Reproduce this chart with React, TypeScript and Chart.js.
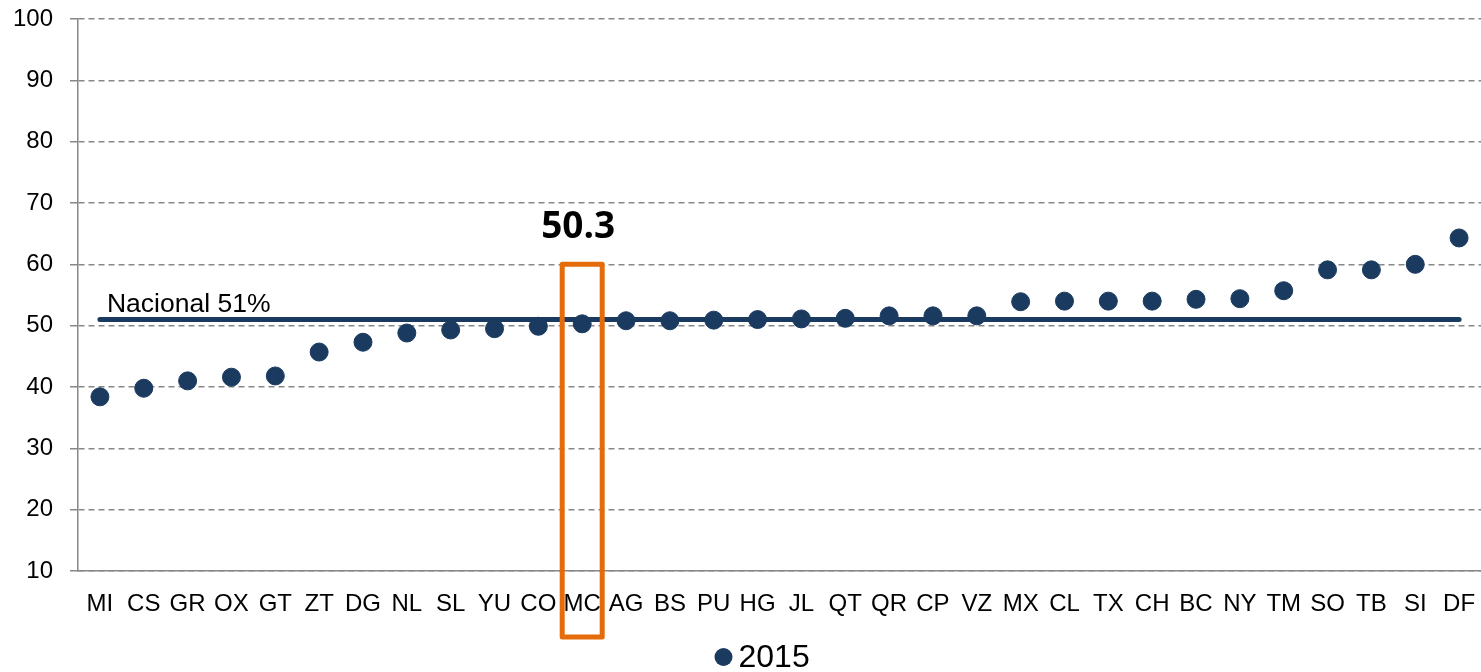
import React, { useEffect, useRef } from "react";
import { Chart, registerables } from "chart.js";

Chart.register(...registerables);

const categories = ["MI","CS","GR","OX","GT","ZT","DG","NL","SL","YU","CO","MC","AG","BS","PU","HG","JL","QT","QR","CP","VZ","MX","CL","TX","CH","BC","NY","TM","SO","TB","SI","DF"];
const values2015 = [38.4,39.8,41.0,41.6,41.8,45.7,47.3,48.8,49.3,49.5,49.9,50.3,50.8,50.8,50.9,51.0,51.1,51.2,51.6,51.6,51.6,53.9,54.0,54.0,54.0,54.3,54.4,55.7,59.1,59.1,60.0,64.3];
const nationalValue = 51;
const nationalLabel = "Nacional 51%";
const highlightCategory = "MC";
const highlightLabel = "50.3";
const highlightTop = 60;
const seriesLabel = "2015";
const yTicks = { min: 10, max: 100, step: 10 };

const NAVY = "#1A3A5F";
const ORANGE = "#E46C0A";
const FONT = "'Liberation Sans', Arial, sans-serif";

const overlayPlugin = {
  id: "overlay",
  afterDatasetsDraw(chart: any) {
    const { ctx, scales, chartArea } = chart;
    const x = scales.x;
    const y = scales.y;
    ctx.save();
    // national label
    const x0 = x.getPixelForValue(0);
    const yn = y.getPixelForValue(nationalValue);
    ctx.fillStyle = "#000";
    ctx.font = `26.5px ${FONT}`;
    ctx.textAlign = "left";
    ctx.textBaseline = "alphabetic";
    ctx.fillText(nationalLabel, x0 + 7, yn - 8);
    // highlight box
    const idx = categories.indexOf(highlightCategory);
    const cx = x.getPixelForValue(idx);
    const top = y.getPixelForValue(highlightTop);
    const bottom = chartArea.bottom + 66;
    ctx.strokeStyle = ORANGE;
    ctx.lineWidth = 5;
    ctx.lineJoin = "round";
    ctx.strokeRect(cx - 20, top, 40, bottom - top);
    // highlight label
    ctx.fillStyle = "#000";
    ctx.font = `bold 37px 'Open Sans', sans-serif`;
    ctx.textAlign = "center";
    ctx.fillText(highlightLabel, cx - 4, top - 26);
    // legend
    const ds = chart.data.datasets[0];
    const ly = chartArea.bottom + 86;
    const lx = (chartArea.left + chartArea.right) / 2 - 56;
    ctx.fillStyle = ds.pointBackgroundColor;
    ctx.beginPath();
    ctx.arc(lx, ly, 9, 0, Math.PI * 2);
    ctx.fill();
    ctx.fillStyle = "#000";
    ctx.font = `32px ${FONT}`;
    ctx.textAlign = "left";
    ctx.textBaseline = "middle";
    ctx.fillText(ds.label, lx + 15, ly + 1);
    ctx.restore();
  },
};

export default function App() {
  const ref = useRef<HTMLCanvasElement>(null);
  useEffect(() => {
    if (!ref.current) return;
    const chart = new Chart(ref.current, {
      type: "line",
      data: {
        labels: categories,
        datasets: [
          {
            label: seriesLabel,
            data: values2015,
            showLine: false,
            pointRadius: 9,
            pointHoverRadius: 9,
            pointBackgroundColor: NAVY,
            pointBorderColor: NAVY,
            backgroundColor: NAVY,
            borderColor: NAVY,
            clip: false,
            order: 1,
          },
          {
            label: "Nacional",
            data: categories.map(() => nationalValue),
            borderColor: NAVY,
            borderWidth: 5,
            borderCapStyle: "round",
            pointRadius: 0,
            clip: false,
            order: 2,
          },
        ],
      },
      options: {
        animation: false,
        responsive: true,
        maintainAspectRatio: false,
        layout: { autoPadding: false, padding: { top: 19, left: 0, right: 0, bottom: 0 } },
        plugins: {
          tooltip: { enabled: false },
          legend: { display: false },
        },
        scales: {
          x: {
            offset: true,
            afterFit: (s: any) => { s.height = 101; s.paddingLeft = 0; s.paddingRight = 0; },
            grid: { display: false, drawTicks: false },
            border: { display: true, color: "#888", width: 1.5 },
            ticks: {
              autoSkip: false,
              maxRotation: 0,
              minRotation: 0,
              padding: 19,
              color: "#000",
              font: { family: FONT, size: 24 },
            },
          },
          y: {
            min: yTicks.min,
            max: yTicks.max,
            afterFit: (s: any) => { s.width = 78; s.paddingTop = 0; s.paddingBottom = 0; },
            grid: { color: "#888", lineWidth: 1.5, tickLength: 8, tickColor: "#888" },
            border: { display: true, color: "#888", width: 1.5, dash: [6, 4] },
            ticks: {
              stepSize: yTicks.step,
              padding: 17,
              color: "#000",
              font: { family: FONT, size: 24 },
            },
          },
        },
      },
      plugins: [overlayPlugin],
    });
    return () => chart.destroy();
  }, []);
  return (
    <div style={{ position: "fixed", left: 0, top: 0, width: 1481, height: 672, background: "#fff" }}>
      <canvas ref={ref} />
    </div>
  );
}
